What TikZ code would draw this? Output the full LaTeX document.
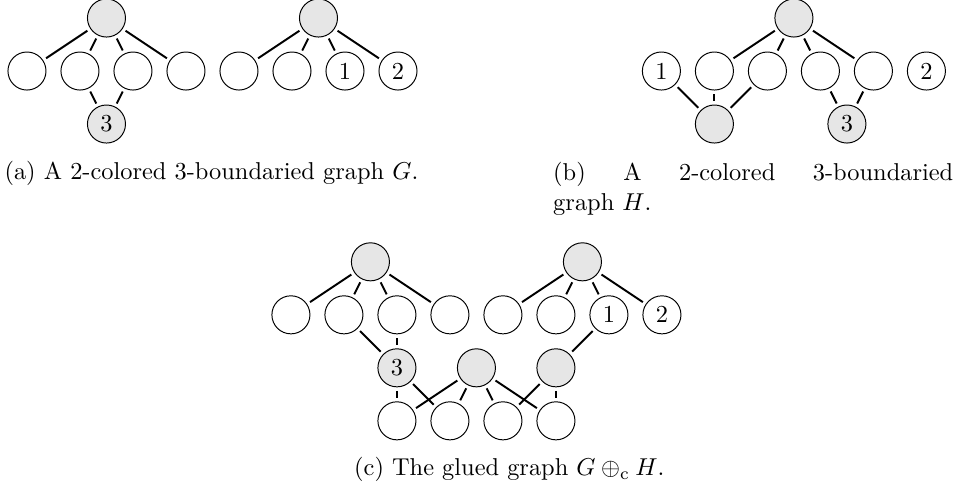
\documentclass[tikz,border=0pt]{standalone}
\usepackage{xcolor}
\usepackage{tikz}
\usetikzlibrary{positioning}
\usepackage{amsmath}
\definecolor{vertexgray}{RGB}{230,230,230}
\tikzset{
  vertex/.style={circle, draw, line width=0.4pt, minimum size=15.6pt,
    inner sep=0pt, font=\normalsize},
  grayvertex/.style={vertex, fill=vertexgray},
  edge/.style={line width=0.8pt, shorten <=1.4pt, shorten >=1.4pt},
  caption/.style={inner sep=0pt, font=\normalsize},
}

\begin{document}
\begin{tikzpicture}[x=21.73pt, y=21.73pt]
  \useasboundingbox (-0.509,1.340) rectangle (17.585,-7.868);

  % (a) the graph G
  \node[vertex] (g1) at (0,0) {};
  \node[vertex] (g2) at (1,0) {};
  \node[vertex] (g3) at (2,0) {};
  \node[vertex] (g4) at (3,0) {};
  \node[vertex] (g5) at (4,0) {};
  \node[vertex] (g6) at (5,0) {};
  \node[vertex] (g7) at (6,0) {1};
  \node[vertex] (g8) at (7,0) {2};
  \node[grayvertex] (gA) at (1.5,1) {};
  \node[grayvertex] (gB) at (5.5,1) {};
  \node[grayvertex] (gC) at (1.5,-1) {3};
  \draw[edge] (gA) -- (g1);
  \draw[edge] (gA) -- (g2);
  \draw[edge] (gA) -- (g3);
  \draw[edge] (gA) -- (g4);
  \draw[edge] (gB) -- (g5);
  \draw[edge] (gB) -- (g6);
  \draw[edge] (gB) -- (g7);
  \draw[edge] (gB) -- (g8);
  \draw[edge] (gC) -- (g2);
  \draw[edge] (gC) -- (g3);
  \node[caption, anchor=base] (capa) at (3.48,-2.04)
    {(a) A 2-colored 3-boundaried graph~$G$.};

  % (b) the graph H
  \begin{scope}[shift={(11.97,0)}]
    \node[vertex] (h1) at (0,0) {1};
    \node[vertex] (h2) at (1,0) {};
    \node[vertex] (h3) at (2,0) {};
    \node[vertex] (h4) at (3,0) {};
    \node[vertex] (h5) at (4,0) {};
    \node[vertex] (h6) at (5,0) {2};
    \node[grayvertex] (hT) at (2.5,1) {};
    \node[grayvertex] (hL) at (1,-1) {};
    \node[grayvertex] (hC) at (3.5,-1) {3};
  \end{scope}
  \draw[edge] (hT) -- (h2);
  \draw[edge] (hT) -- (h3);
  \draw[edge] (hT) -- (h4);
  \draw[edge] (hT) -- (h5);
  \draw[edge] (hL) -- (h1);
  \draw[edge] (hL) -- (h2);
  \draw[edge] (hL) -- (h3);
  \draw[edge] (hC) -- (h4);
  \draw[edge] (hC) -- (h5);
  \node[caption, anchor=base west, text width=164pt, align=justify] (capb)
    at (9.92,-2.07) {(b) A 2-colored 3-boundaried graph~$H$.};

  % (c) the glued graph
  \begin{scope}[shift={(4.98,-4.60)}]
    \node[vertex] (c1) at (0,0) {};
    \node[vertex] (c2) at (1,0) {};
    \node[vertex] (c3) at (2,0) {};
    \node[vertex] (c4) at (3,0) {};
    \node[vertex] (c5) at (4,0) {};
    \node[vertex] (c6) at (5,0) {};
    \node[vertex] (c7) at (6,0) {1};
    \node[vertex] (c8) at (7,0) {2};
    \node[grayvertex] (cA) at (1.5,1) {};
    \node[grayvertex] (cB) at (5.5,1) {};
    \node[grayvertex] (cC) at (2,-1) {3};
    \node[grayvertex] (cM) at (3.5,-1) {};
    \node[grayvertex] (cR) at (5,-1) {};
    \node[vertex] (d1) at (2,-2) {};
    \node[vertex] (d2) at (3,-2) {};
    \node[vertex] (d3) at (4,-2) {};
    \node[vertex] (d4) at (5,-2) {};
  \end{scope}
  \draw[edge] (cA) -- (c1);
  \draw[edge] (cA) -- (c2);
  \draw[edge] (cA) -- (c3);
  \draw[edge] (cA) -- (c4);
  \draw[edge] (cB) -- (c5);
  \draw[edge] (cB) -- (c6);
  \draw[edge] (cB) -- (c7);
  \draw[edge] (cB) -- (c8);
  \draw[edge] (cC) -- (c2);
  \draw[edge] (cC) -- (c3);
  \draw[edge] (cC) -- (d1);
  \draw[edge] (cC) -- (d2);
  \draw[edge] (cM) -- (d1);
  \draw[edge] (cM) -- (d2);
  \draw[edge] (cM) -- (d3);
  \draw[edge] (cM) -- (d4);
  \draw[edge] (cR) -- (c7);
  \draw[edge] (cR) -- (d3);
  \draw[edge] (cR) -- (d4);
  \node[caption, anchor=base] (capc) at (9.10,-7.64)
    {(c) The glued graph $G \oplus_{\mathrm{c}} H$.};
\end{tikzpicture}
\end{document}
